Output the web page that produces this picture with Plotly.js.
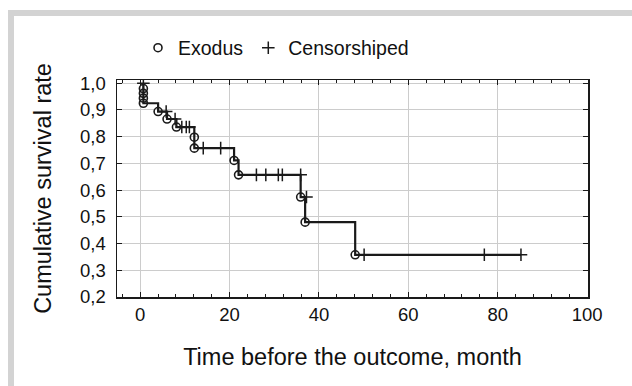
<!DOCTYPE html>
<html>
<head>
<meta charset="utf-8">
<script src="https://cdn.plot.ly/plotly-3.0.1.min.js"></script>
<style>
  html, body { margin: 0; padding: 0; background: #ffffff; }
  #frame { position: absolute; left: 8px; top: 10px; width: 624px; height: 376px;
           border-top: 6px solid #d3d3d3; border-left: 6px solid #d3d3d3; box-sizing: border-box; }
  #chart { position: absolute; left: 0; top: 0; width: 632px; height: 386px; }
</style>
</head>
<body>
<div id="frame"></div>
<div id="chart"></div>
<script>
// Kaplan-Meier step curve (time, survival after step)
const stepTime = [0.7, 0.7, 4.0, 6.0, 8.1, 12.1, 21.0, 22.0, 35.9, 36.9, 48.1, 85.2];
const stepSurv = [1.0, 0.925, 0.894, 0.866, 0.836, 0.757, 0.711, 0.657, 0.574, 0.480, 0.358, 0.358];

// Complete observations (Exodus)
const eventTime = [0.7, 0.7, 0.7, 0.7, 4.0, 6.0, 8.1, 12.1, 12.1, 21.0, 22.0, 35.9, 36.9, 48.1];
const eventSurv = [0.980, 0.962, 0.944, 0.925, 0.894, 0.866, 0.836, 0.798, 0.757, 0.711, 0.657, 0.574, 0.480, 0.358];

// Censored observations
const censTime = [0.7, 5.8, 7.8, 9.3, 10.3, 11.0, 14.1, 18.0, 26.0, 28.1, 30.9, 31.8, 35.9, 37.2, 50.1, 77.0, 85.2];
const censSurv = [1.0, 0.894, 0.866, 0.836, 0.836, 0.836, 0.757, 0.757, 0.657, 0.657, 0.657, 0.657, 0.657, 0.574, 0.358, 0.358, 0.358];

const legendNames = ["Exodus", "Censorshiped"];
const xTitle = "Time before the outcome, month";
const yTitle = "Cumulative survival rate";
const xTicks = [0, 20, 40, 60, 80, 100];
const yTicks = [0.2, 0.3, 0.4, 0.5, 0.6, 0.7, 0.8, 0.9, 1.0];

const font = "Liberation Sans, Arial, sans-serif";
const ink = "#1a1a1a";

const traces = [
  {
    x: stepTime, y: stepSurv, type: "scatter", mode: "lines",
    line: { shape: "hv", color: ink, width: 2.2 },
    showlegend: false, hoverinfo: "skip"
  },
  {
    x: eventTime, y: eventSurv, type: "scatter", mode: "markers", name: legendNames[0],
    marker: { symbol: "circle-open", size: 8, color: ink, line: { width: 1.6, color: ink } }
  },
  {
    x: censTime, y: censSurv, type: "scatter", mode: "markers", name: legendNames[1],
    marker: { symbol: "cross-thin-open", size: 9, color: ink, line: { width: 1.5, color: ink } }
  }
];

const layout = {
  width: 632, height: 386,
  paper_bgcolor: "rgba(0,0,0,0)", plot_bgcolor: "#ffffff",
  separators: ", ",
  font: { family: font, color: "#111111", size: 18 },
  margin: { l: 117, r: 44, t: 80, b: 89, pad: 0 },
  showlegend: true,
  legend: {
    orientation: "h", x: 138/632, xanchor: "left", xref: "container",
    y: 338/386, yanchor: "middle", yref: "container",
    font: { family: font, size: 19.5, color: "#111111" },
    itemwidth: 30, tracegroupgap: 0, bgcolor: "rgba(0,0,0,0)"
  },
  xaxis: {
    range: [-5.2, 100.2], tickvals: xTicks, ticktext: xTicks.map(String),
    showgrid: true, gridcolor: "#cccccc", gridwidth: 1, zeroline: false,
    showline: true, linecolor: ink, linewidth: 1.5, mirror: "ticks",
    ticks: "inside", ticklen: 5, tickcolor: ink, tickwidth: 1,
    minor: { dtick: 4, tick0: 0, ticks: "inside", ticklen: 3, tickcolor: ink, showgrid: false },
    tickfont: { family: font, size: 18.5, color: "#111111" },
    title: { text: xTitle, font: { family: font, size: 23.5, color: "#111111" }, standoff: 25 },
    automargin: false
  },
  yaxis: {
    range: [0.2, 1.012], tickvals: yTicks, tickformat: ".1f",
    showgrid: true, gridcolor: "#cccccc", gridwidth: 1, zeroline: false,
    showline: true, linecolor: ink, linewidth: 1.5, mirror: "ticks",
    ticks: "inside", ticklen: 5, tickcolor: ink, tickwidth: 1,
    tickfont: { family: font, size: 18.5, color: "#111111" },
    ticklabelstandoff: 6,
    title: { text: yTitle, font: { family: font, size: 23.5, color: "#111111" }, standoff: 22 },
    automargin: false
  }
};

Plotly.newPlot("chart", traces, layout, { displayModeBar: false, staticPlot: true });
</script>
</body>
</html>
